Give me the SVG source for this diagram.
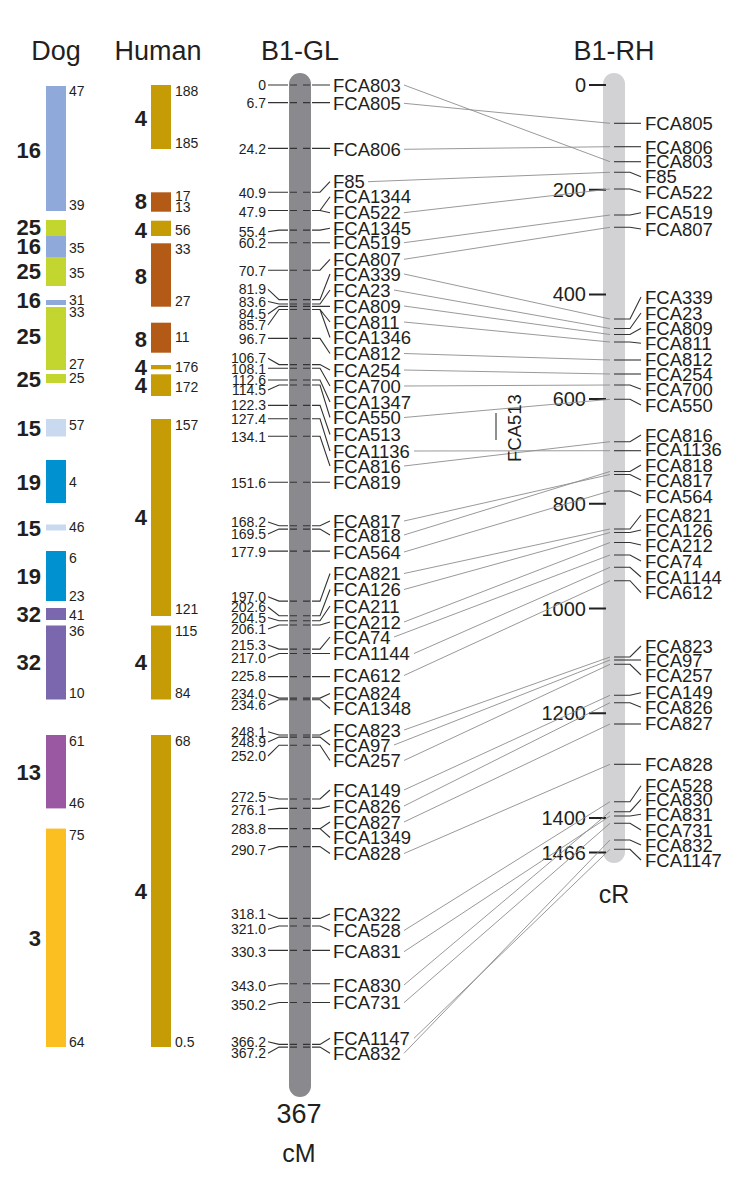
<svg xmlns="http://www.w3.org/2000/svg" width="750" height="1190" viewBox="0 0 750 1190">
<style>
text{font-family:"Liberation Sans",Arial,sans-serif;fill:#231f20}
.hd{font-size:27px;text-anchor:middle}
.bn{font-size:22px;font-weight:bold;text-anchor:end}
.sn{font-size:14px}
.gn{font-size:14px;text-anchor:end}
.mk{font-size:18.5px}
.sc{font-size:20px;text-anchor:end}
.ax{text-anchor:middle}
.ld{fill:none;stroke:#333;stroke-width:1.1}
.cn{fill:none;stroke:#8d8d8d;stroke-width:0.9}
.st{stroke:#222;stroke-width:2}
.d16{fill:#8fa9da}.d25{fill:#c2d62f}.d15{fill:#c9daf0}.d19{fill:#0092d0}.d32{fill:#7a67ad}.d13{fill:#9b58a2}.d3{fill:#fcbf22}
.h4{fill:#c59c05}.h8{fill:#b45a17}
</style>

<g id="headings">
<text class="hd" x="56" y="60">Dog</text>
<text class="hd" x="158" y="60">Human</text>
<text class="hd" x="300" y="60">B1-GL</text>
<text class="hd" x="614" y="60">B1-RH</text>
</g>

<g id="dog">
<rect class="d16" x="46" y="86" width="20" height="125"/><text class="sn" x="69" y="96">47</text><text class="sn" x="69" y="209.5">39</text><text class="bn" x="41" y="157.7">16</text>
<rect class="d25" x="46" y="220" width="20" height="16"/><text class="bn" x="41" y="235">25</text>
<rect class="d16" x="46" y="236" width="20" height="21"/><text class="sn" x="69" y="253">35</text><text class="bn" x="41" y="254">16</text>
<rect class="d25" x="46" y="257" width="20" height="29"/><text class="sn" x="69" y="278">35</text><text class="bn" x="41" y="279">25</text>
<rect class="d16" x="46" y="300" width="20" height="5"/><text class="sn" x="69" y="305">31</text><text class="bn" x="41" y="308">16</text>
<rect class="d25" x="46" y="307" width="20" height="63"/><text class="sn" x="69" y="317">33</text><text class="sn" x="69" y="369">27</text><text class="bn" x="41" y="344">25</text>
<rect class="d25" x="46" y="374" width="20" height="9"/><text class="sn" x="69" y="383">25</text><text class="bn" x="41" y="387">25</text>
<rect class="d15" x="46" y="419" width="20" height="17.5"/><text class="sn" x="69" y="430">57</text><text class="bn" x="41" y="435.5">15</text>
<rect class="d19" x="46" y="460" width="20" height="43"/><text class="sn" x="69" y="486.5">4</text><text class="bn" x="41" y="490">19</text>
<rect class="d15" x="46" y="524.5" width="20" height="6"/><text class="sn" x="69" y="532">46</text><text class="bn" x="41" y="535.5">15</text>
<rect class="d19" x="46" y="551" width="20" height="50"/><text class="sn" x="69" y="562.8">6</text><text class="sn" x="69" y="601">23</text><text class="bn" x="41" y="584">19</text>
<rect class="d32" x="46" y="608" width="20" height="12"/><text class="sn" x="69" y="619.6">41</text><text class="bn" x="41" y="622">32</text>
<rect class="d32" x="46" y="625.5" width="20" height="74"/><text class="sn" x="69" y="636.4">36</text><text class="sn" x="69" y="697.5">10</text><text class="bn" x="41" y="670">32</text>
<rect class="d13" x="46" y="735" width="20" height="73.4"/><text class="sn" x="69" y="745.5">61</text><text class="sn" x="69" y="808">46</text><text class="bn" x="41" y="779.7">13</text>
<rect class="d3" x="46" y="828.6" width="20" height="218.4"/><text class="sn" x="69" y="839.5">75</text><text class="sn" x="69" y="1046.6">64</text><text class="bn" x="41" y="946">3</text>
</g>

<g id="human">
<rect class="h4" x="151" y="85" width="20" height="64"/><text class="sn" x="175" y="96">188</text><text class="sn" x="175" y="148">185</text><text class="bn" x="147" y="126.3">4</text>
<rect class="h8" x="151" y="192.3" width="20" height="19.4"/><text class="sn" x="175" y="200.7">17</text><text class="sn" x="175" y="211.7">13</text><text class="bn" x="147" y="209">8</text>
<rect class="h4" x="151" y="220.7" width="20" height="15.3"/><text class="sn" x="175" y="235">56</text><text class="bn" x="147" y="238.3">4</text>
<rect class="h8" x="151" y="243.3" width="20" height="63.4"/><text class="sn" x="175" y="254">33</text><text class="sn" x="175" y="306">27</text><text class="bn" x="147" y="283.7">8</text>
<rect class="h8" x="151" y="322.7" width="20" height="30"/><text class="sn" x="175" y="341.7">11</text><text class="bn" x="147" y="347">8</text>
<rect class="h4" x="151" y="365" width="20" height="4.3"/><text class="sn" x="175" y="371.7">176</text><text class="bn" x="147" y="374.7">4</text>
<rect class="h4" x="151" y="374.3" width="20" height="21.7"/><text class="sn" x="175" y="391.7">172</text><text class="bn" x="147" y="393">4</text>
<rect class="h4" x="151" y="419" width="20" height="197"/><text class="sn" x="175" y="430.2">157</text><text class="sn" x="175" y="614">121</text><text class="bn" x="147" y="525">4</text>
<rect class="h4" x="151" y="625.5" width="20" height="74"/><text class="sn" x="175" y="636.4">115</text><text class="sn" x="175" y="697.5">84</text><text class="bn" x="147" y="670">4</text>
<rect class="h4" x="151" y="735" width="20" height="312"/><text class="sn" x="175" y="745.5">68</text><text class="sn" x="175" y="1047">0.5</text><text class="bn" x="147" y="899">4</text>
</g>

<g id="b1-gl-bar">
<rect x="289" y="73" width="22" height="1024" rx="11" fill="#8a8a8e"/>
<text class="ax" x="299" y="1122.7" font-size="27">367</text>
<text class="ax" x="299" y="1161.7" font-size="25">cM</text>
</g>

<g id="b1-rh-bar">
<rect x="603" y="73" width="22" height="790" rx="11" fill="#d2d2d4"/>
<text class="ax" x="614" y="903" font-size="25">cR</text>
<path class="st" d="M589 85H606M589 189.7H606M589 294.4H606M589 399.1H606M589 503.8H606M589 608.5H606M589 713.2H606M589 817.9H606M589 852.5H606"/>
<text class="sc" x="586" y="92">0</text>
<text class="sc" x="586" y="196.7">200</text>
<text class="sc" x="586" y="301.4">400</text>
<text class="sc" x="586" y="406.1">600</text>
<text class="sc" x="586" y="510.8">800</text>
<text class="sc" x="586" y="615.5">1000</text>
<text class="sc" x="586" y="720.2">1200</text>
<text class="sc" x="586" y="824.9">1400</text>
<text class="sc" x="586" y="859.5">1466</text>
</g>

<g id="connectors">
<path class="cn" d="M404 85L610 161.7M404 103.3L610 123.3M404 149.3L610 146.7M368 181.7L610 172.3M404 212.7L610 189M404 242.7L610 215M404 259.3L610 227.3M404 274L610 319M394 290L610 328.5M404 306L610 334.5M404 322L610 342M404 353.5L610 360M404 370L610 374M404 386L610 385M404 417.5L610 399.3M414 451L610 450.7M404 466L610 441.7M404 521L610 474.5M404 535L610 471.5M404 552L610 491M404 573.5L610 529M404 589.5L610 532.5M404 622L610 542.5M394 637L610 555M414 653.5L610 567.3M404 675.5L610 580.7M404 730L610 657M394 745L610 660M404 760.5L610 664.3M404 790L610 695.3M404 806L610 702.7M404 822L610 724M404 853.5L610 764.3M404 930.5L610 801.7M404 951.7L610 816M404 985L610 811.7M404 1002.7L610 823.3M414 1038.3L610 849.3M404 1053.3L610 840"/>
</g>

<g id="gl-0"><text class="gn" x="266" y="90">0</text><path class="ld" d="M268 85H288M290 85H297M303 85H310M312 85H330"/><text class="mk" x="333" y="91.6">FCA803</text></g>
<g id="gl-6.7"><text class="gn" x="266" y="108.3">6.7</text><path class="ld" d="M268 102.6H288M290 102.6H297M303 102.6H310M312 102.6H330"/><text class="mk" x="333" y="109.9">FCA805</text></g>
<g id="gl-24.2"><text class="gn" x="266" y="154.3">24.2</text><path class="ld" d="M268 148.4H288M290 148.4H297M303 148.4H310M312 148.4H330"/><text class="mk" x="333" y="155.9">FCA806</text></g>
<g id="gl-40.9"><text class="gn" x="266" y="198.3">40.9</text><path class="ld" d="M268 192.2H288M290 192.2H297M303 192.2H310M312 192.2H320L330 181.7"/><text class="mk" x="333" y="188.3">F85</text></g>
<g id="gl-47.9"><text class="gn" x="266" y="216.7">47.9</text><path class="ld" d="M268 210.5H288M290 210.5H297M303 210.5H310M312 210.5H320L330 196.7M320 210.5L330 212.7"/><text class="mk" x="333" y="203.3">FCA1344</text><text class="mk" x="333" y="219.3">FCA522</text></g>
<g id="gl-55.4"><text class="gn" x="266" y="236.7">55.4</text><path class="ld" d="M268 231.7L279 230.1H288M290 230.1H297M303 230.1H310M312 230.1H320L330 228.3"/><text class="mk" x="333" y="234.9">FCA1345</text></g>
<g id="gl-60.2"><text class="gn" x="266" y="248.3">60.2</text><path class="ld" d="M268 242.7H288M290 242.7H297M303 242.7H310M312 242.7H330"/><text class="mk" x="333" y="249.3">FCA519</text></g>
<g id="gl-70.7"><text class="gn" x="266" y="275.7">70.7</text><path class="ld" d="M268 270.2H288M290 270.2H297M303 270.2H310M312 270.2H320L330 259.3"/><text class="mk" x="333" y="265.9">FCA807</text></g>
<g id="gl-81.9"><text class="gn" x="266" y="294.3">81.9</text><path class="ld" d="M268 289.3L279 299.6H288M290 299.6H297M303 299.6H310M312 299.6H320L330 274"/><text class="mk" x="333" y="280.6">FCA339</text></g>
<g id="gl-83.6"><text class="gn" x="266" y="306.5">83.6</text><path class="ld" d="M268 301.5L279 304H288M290 304H297M303 304H310M312 304H320L330 290"/><text class="mk" x="333" y="296.6">FCA23</text></g>
<g id="gl-84.5"><text class="gn" x="266" y="319">84.5</text><path class="ld" d="M268 314L279 306.4H288M290 306.4H297M303 306.4H310M312 306.4H330"/><text class="mk" x="333" y="312.6">FCA809</text></g>
<g id="gl-85.7"><text class="gn" x="266" y="330">85.7</text><path class="ld" d="M268 325L279 309.5H288M290 309.5H297M303 309.5H310M312 309.5H320L330 322M320 309.5L330 337.5"/><text class="mk" x="333" y="328.6">FCA811</text><text class="mk" x="333" y="344.1">FCA1346</text></g>
<g id="gl-96.7"><text class="gn" x="266" y="344.3">96.7</text><path class="ld" d="M268 338.4H288M290 338.4H297M303 338.4H310M312 338.4H320L330 353.5"/><text class="mk" x="333" y="360.1">FCA812</text></g>
<g id="gl-106.7"><text class="gn" x="266" y="363.3">106.7</text><path class="ld" d="M268 358.3L279 364.6H288M290 364.6H297M303 364.6H310M312 364.6H320L330 370"/><text class="mk" x="333" y="376.6">FCA254</text></g>
<g id="gl-108.1"><text class="gn" x="266" y="374.3">108.1</text><path class="ld" d="M268 368.2H288M290 368.2H297M303 368.2H310M312 368.2H320L330 386"/><text class="mk" x="333" y="392.6">FCA700</text></g>
<g id="gl-112.6"><text class="gn" x="266" y="385">112.6</text><path class="ld" d="M268 380H288M290 380H297M303 380H310M312 380H320L330 402"/><text class="mk" x="333" y="408.6">FCA1347</text></g>
<g id="gl-114.5"><text class="gn" x="266" y="395">114.5</text><path class="ld" d="M268 390L279 385H288M290 385H297M303 385H310M312 385H320L330 417.5"/><text class="mk" x="333" y="424.1">FCA550</text></g>
<g id="gl-122.3"><text class="gn" x="266" y="410">122.3</text><path class="ld" d="M268 405.4H288M290 405.4H297M303 405.4H310M312 405.4H320L330 434.5"/><text class="mk" x="333" y="441.1">FCA513</text></g>
<g id="gl-127.4"><text class="gn" x="266" y="424">127.4</text><path class="ld" d="M268 418.8H288M290 418.8H297M303 418.8H310M312 418.8H320L330 451"/><text class="mk" x="333" y="457.6">FCA1136</text></g>
<g id="gl-134.1"><text class="gn" x="266" y="441.7">134.1</text><path class="ld" d="M268 436.3H288M290 436.3H297M303 436.3H310M312 436.3H320L330 466"/><text class="mk" x="333" y="472.6">FCA816</text></g>
<g id="gl-151.6"><text class="gn" x="266" y="487.7">151.6</text><path class="ld" d="M268 482.2H288M290 482.2H297M303 482.2H310M312 482.2H330"/><text class="mk" x="333" y="489.3">FCA819</text></g>
<g id="gl-168.2"><text class="gn" x="266" y="527">168.2</text><path class="ld" d="M268 522L279 525.7H288M290 525.7H297M303 525.7H310M312 525.7H320L330 521"/><text class="mk" x="333" y="527.6">FCA817</text></g>
<g id="gl-169.5"><text class="gn" x="266" y="539">169.5</text><path class="ld" d="M268 534L279 529.1H288M290 529.1H297M303 529.1H310M312 529.1H320L330 535"/><text class="mk" x="333" y="541.6">FCA818</text></g>
<g id="gl-177.9"><text class="gn" x="266" y="556.7">177.9</text><path class="ld" d="M268 551.1H288M290 551.1H297M303 551.1H310M312 551.1H330"/><text class="mk" x="333" y="558.6">FCA564</text></g>
<g id="gl-197.0"><text class="gn" x="266" y="601.7">197.0</text><path class="ld" d="M268 596.7L279 601.1H288M290 601.1H297M303 601.1H310M312 601.1H320L330 573.5"/><text class="mk" x="333" y="580.1">FCA821</text></g>
<g id="gl-202.6"><text class="gn" x="266" y="612">202.6</text><path class="ld" d="M268 607L279 615.8H288M290 615.8H297M303 615.8H310M312 615.8H320L330 589.5"/><text class="mk" x="333" y="596.1">FCA126</text></g>
<g id="gl-204.5"><text class="gn" x="266" y="622.5">204.5</text><path class="ld" d="M268 617.5L279 620.8H288M290 620.8H297M303 620.8H310M312 620.8H320L330 606"/><text class="mk" x="333" y="612.6">FCA211</text></g>
<g id="gl-206.1"><text class="gn" x="266" y="634">206.1</text><path class="ld" d="M268 629L279 625H288M290 625H297M303 625H310M312 625H320L330 622"/><text class="mk" x="333" y="628.6">FCA212</text></g>
<g id="gl-215.3"><text class="gn" x="266" y="650">215.3</text><path class="ld" d="M268 645L279 649.1H288M290 649.1H297M303 649.1H310M312 649.1H320L330 637"/><text class="mk" x="333" y="643.6">FCA74</text></g>
<g id="gl-217.0"><text class="gn" x="266" y="663">217.0</text><path class="ld" d="M268 658L279 653.5H288M290 653.5H297M303 653.5H310M312 653.5H330"/><text class="mk" x="333" y="660.1">FCA1144</text></g>
<g id="gl-225.8"><text class="gn" x="266" y="680.5">225.8</text><path class="ld" d="M268 676.6H288M290 676.6H297M303 676.6H310M312 676.6H330"/><text class="mk" x="333" y="682.1">FCA612</text></g>
<g id="gl-234.0"><text class="gn" x="266" y="699">234.0</text><path class="ld" d="M268 694L279 698.1H288M290 698.1H297M303 698.1H310M312 698.1H320L330 693.5"/><text class="mk" x="333" y="700.1">FCA824</text></g>
<g id="gl-234.6"><text class="gn" x="266" y="710">234.6</text><path class="ld" d="M268 705L279 699.7H288M290 699.7H297M303 699.7H310M312 699.7H320L330 708.5"/><text class="mk" x="333" y="715.1">FCA1348</text></g>
<g id="gl-248.1"><text class="gn" x="266" y="736.7">248.1</text><path class="ld" d="M268 731.7L279 735H288M290 735H297M303 735H310M312 735H320L330 730"/><text class="mk" x="333" y="736.6">FCA823</text></g>
<g id="gl-248.9"><text class="gn" x="266" y="747">248.9</text><path class="ld" d="M268 742L279 737.1H288M290 737.1H297M303 737.1H310M312 737.1H320L330 745"/><text class="mk" x="333" y="751.6">FCA97</text></g>
<g id="gl-252.0"><text class="gn" x="266" y="761">252.0</text><path class="ld" d="M268 756L279 745.2H288M290 745.2H297M303 745.2H310M312 745.2H320L330 760.5"/><text class="mk" x="333" y="767.1">FCA257</text></g>
<g id="gl-272.5"><text class="gn" x="266" y="801.7">272.5</text><path class="ld" d="M268 796.7L279 799H288M290 799H297M303 799H310M312 799H320L330 790"/><text class="mk" x="333" y="796.6">FCA149</text></g>
<g id="gl-276.1"><text class="gn" x="266" y="815">276.1</text><path class="ld" d="M268 810L279 808.4H288M290 808.4H297M303 808.4H310M312 808.4H320L330 806"/><text class="mk" x="333" y="812.6">FCA826</text></g>
<g id="gl-283.8"><text class="gn" x="266" y="834">283.8</text><path class="ld" d="M268 828.6H288M290 828.6H297M303 828.6H310M312 828.6H320L330 822M320 828.6L330 837.5"/><text class="mk" x="333" y="828.6">FCA827</text><text class="mk" x="333" y="844.1">FCA1349</text></g>
<g id="gl-290.7"><text class="gn" x="266" y="855">290.7</text><path class="ld" d="M268 850L279 846.6H288M290 846.6H297M303 846.6H310M312 846.6H320L330 853.5"/><text class="mk" x="333" y="860.1">FCA828</text></g>
<g id="gl-318.1"><text class="gn" x="266" y="919">318.1</text><path class="ld" d="M268 914L279 918.4H288M290 918.4H297M303 918.4H310M312 918.4H320L330 914"/><text class="mk" x="333" y="920.6">FCA322</text></g>
<g id="gl-321.0"><text class="gn" x="266" y="934.3">321.0</text><path class="ld" d="M268 929.3L279 926H288M290 926H297M303 926H310M312 926H320L330 930.5"/><text class="mk" x="333" y="937.1">FCA528</text></g>
<g id="gl-330.3"><text class="gn" x="266" y="956.7">330.3</text><path class="ld" d="M268 950.4H288M290 950.4H297M303 950.4H310M312 950.4H330"/><text class="mk" x="333" y="958.3">FCA831</text></g>
<g id="gl-343.0"><text class="gn" x="266" y="991">343.0</text><path class="ld" d="M268 986L279 983.7H288M290 983.7H297M303 983.7H310M312 983.7H330"/><text class="mk" x="333" y="991.6">FCA830</text></g>
<g id="gl-350.2"><text class="gn" x="266" y="1010">350.2</text><path class="ld" d="M268 1005L279 1002.5H288M290 1002.5H297M303 1002.5H310M312 1002.5H330"/><text class="mk" x="333" y="1009.3">FCA731</text></g>
<g id="gl-366.2"><text class="gn" x="266" y="1046.7">366.2</text><path class="ld" d="M268 1041.7L279 1044.4H288M290 1044.4H297M303 1044.4H310M312 1044.4H320L330 1038.3"/><text class="mk" x="333" y="1044.9">FCA1147</text></g>
<g id="gl-367.2"><text class="gn" x="266" y="1058.3">367.2</text><path class="ld" d="M268 1053.3L279 1047.1H288M290 1047.1H297M303 1047.1H310M312 1047.1H320L330 1053.3"/><text class="mk" x="333" y="1059.9">FCA832</text></g>

<g id="rh-FCA805"><path class="ld" d="M614 123.3H641"/><text class="mk" x="645" y="129.9">FCA805</text></g>
<g id="rh-FCA806"><path class="ld" d="M614 146.7H641"/><text class="mk" x="645" y="153.9">FCA806</text></g>
<g id="rh-FCA803"><path class="ld" d="M614 161.7H641"/><text class="mk" x="645" y="168.3">FCA803</text></g>
<g id="rh-F85"><path class="ld" d="M614 172.3H630L641 176.7"/><text class="mk" x="645" y="183.3">F85</text></g>
<g id="rh-FCA522"><path class="ld" d="M614 189H630L641 192.3"/><text class="mk" x="645" y="198.9">FCA522</text></g>
<g id="rh-FCA519"><path class="ld" d="M614 215H630L641 212.7"/><text class="mk" x="645" y="219.3">FCA519</text></g>
<g id="rh-FCA807"><path class="ld" d="M614 227.3H630L641 229"/><text class="mk" x="645" y="235.6">FCA807</text></g>
<g id="rh-FCA339"><path class="ld" d="M614 319H630L641 297"/><text class="mk" x="645" y="303.6">FCA339</text></g>
<g id="rh-FCA23"><path class="ld" d="M614 328.5H630L641 313"/><text class="mk" x="645" y="319.6">FCA23</text></g>
<g id="rh-FCA809"><path class="ld" d="M614 334.5H630L641 328.3"/><text class="mk" x="645" y="334.9">FCA809</text></g>
<g id="rh-FCA811"><path class="ld" d="M614 342H630L641 343.3"/><text class="mk" x="645" y="349.9">FCA811</text></g>
<g id="rh-FCA812"><path class="ld" d="M614 360H641"/><text class="mk" x="645" y="365.9">FCA812</text></g>
<g id="rh-FCA254"><path class="ld" d="M614 374H641"/><text class="mk" x="645" y="380.6">FCA254</text></g>
<g id="rh-FCA700"><path class="ld" d="M614 385H630L641 389.3"/><text class="mk" x="645" y="395.9">FCA700</text></g>
<g id="rh-FCA550"><path class="ld" d="M614 399.3H630L641 405"/><text class="mk" x="645" y="411.6">FCA550</text></g>
<g id="rh-FCA513"><path class="ld" d="M496 413V440"/><text class="mk" transform="translate(521 462) rotate(-90)">FCA513</text></g>
<g id="rh-FCA816"><path class="ld" d="M614 441.7H630L641 435"/><text class="mk" x="645" y="441.6">FCA816</text></g>
<g id="rh-FCA1136"><path class="ld" d="M614 450.7H641"/><text class="mk" x="645" y="455.9">FCA1136</text></g>
<g id="rh-FCA818"><path class="ld" d="M614 471.5H630L641 465"/><text class="mk" x="645" y="471.6">FCA818</text></g>
<g id="rh-FCA817"><path class="ld" d="M614 474.5H630L641 480"/><text class="mk" x="645" y="486.6">FCA817</text></g>
<g id="rh-FCA564"><path class="ld" d="M614 491H630L641 496"/><text class="mk" x="645" y="502.6">FCA564</text></g>
<g id="rh-FCA821"><path class="ld" d="M614 529H630L641 515"/><text class="mk" x="645" y="521.6">FCA821</text></g>
<g id="rh-FCA126"><path class="ld" d="M614 532.5H630L641 530"/><text class="mk" x="645" y="536.6">FCA126</text></g>
<g id="rh-FCA212"><path class="ld" d="M614 542.5H630L641 545"/><text class="mk" x="645" y="551.6">FCA212</text></g>
<g id="rh-FCA74"><path class="ld" d="M614 555H630L641 561"/><text class="mk" x="645" y="567.6">FCA74</text></g>
<g id="rh-FCA1144"><path class="ld" d="M614 567.3H630L641 577"/><text class="mk" x="645" y="583.6">FCA1144</text></g>
<g id="rh-FCA612"><path class="ld" d="M614 580.7H630L641 592.7"/><text class="mk" x="645" y="599.3">FCA612</text></g>
<g id="rh-FCA823"><path class="ld" d="M614 657H630L641 646"/><text class="mk" x="645" y="652.6">FCA823</text></g>
<g id="rh-FCA97"><path class="ld" d="M614 660H641"/><text class="mk" x="645" y="667.3">FCA97</text></g>
<g id="rh-FCA257"><path class="ld" d="M614 664.3H630L641 675"/><text class="mk" x="645" y="681.6">FCA257</text></g>
<g id="rh-FCA149"><path class="ld" d="M614 695.3H630L641 692.7"/><text class="mk" x="645" y="699.3">FCA149</text></g>
<g id="rh-FCA826"><path class="ld" d="M614 702.7H630L641 707.3"/><text class="mk" x="645" y="713.9">FCA826</text></g>
<g id="rh-FCA827"><path class="ld" d="M614 724H641"/><text class="mk" x="645" y="729.9">FCA827</text></g>
<g id="rh-FCA828"><path class="ld" d="M614 764.3H641"/><text class="mk" x="645" y="770.9">FCA828</text></g>
<g id="rh-FCA528"><path class="ld" d="M614 801.7H630L641 785.7"/><text class="mk" x="645" y="792.3">FCA528</text></g>
<g id="rh-FCA830"><path class="ld" d="M614 811.7H630L641 799.3"/><text class="mk" x="645" y="805.9">FCA830</text></g>
<g id="rh-FCA831"><path class="ld" d="M614 816H630L641 814.3"/><text class="mk" x="645" y="820.9">FCA831</text></g>
<g id="rh-FCA731"><path class="ld" d="M614 823.3H630L641 830"/><text class="mk" x="645" y="836.6">FCA731</text></g>
<g id="rh-FCA832"><path class="ld" d="M614 840H630L641 845"/><text class="mk" x="645" y="851.6">FCA832</text></g>
<g id="rh-FCA1147"><path class="ld" d="M614 849.3H630L641 860"/><text class="mk" x="645" y="866.6">FCA1147</text></g>
</svg>
